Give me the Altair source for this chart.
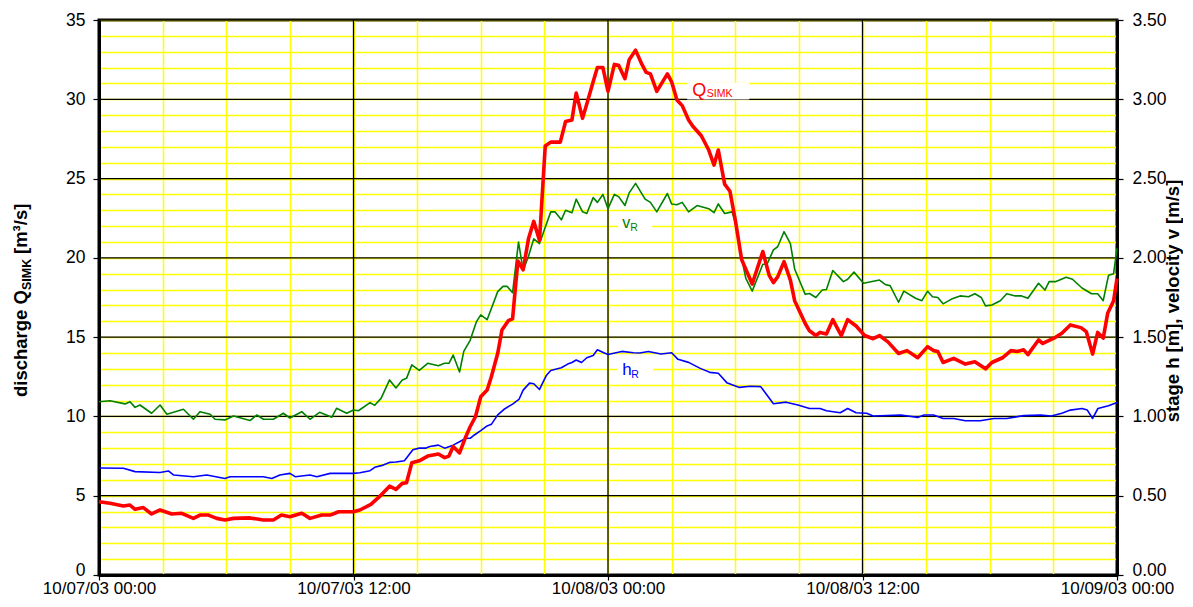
import altair as alt
import pandas as pd

# ---------------- data ----------------
# discharge Q_SIMK [m3/s]; hours after 10/07/03 00:00
q_hours = [0, 0.52, 1.15, 1.46, 1.7, 2.09, 2.48, 2.88, 3.43, 3.9,
           4.45, 4.76, 5.16, 5.55, 5.94, 6.34, 7.12, 7.75, 8.22, 8.6,
           9.0, 9.56, 9.95, 10.5, 10.9, 11.3, 12.0, 12.3, 12.82, 13.3,
           13.7, 14.0, 14.3, 14.5, 14.75, 15.1, 15.5, 16.0, 16.3, 16.5,
           16.7, 17.0, 17.3, 17.5, 17.75, 18.0, 18.3, 18.5, 18.8, 19.0,
           19.3, 19.5, 19.75, 20.0, 20.25, 20.5, 20.77, 21.04, 21.3, 21.75,
           22.0, 22.3, 22.5, 22.8, 23.0, 23.3, 23.5, 23.76, 24.0, 24.3,
           24.5, 24.8, 25.0, 25.3, 25.6, 25.8, 26.0, 26.3, 26.8, 27.0,
           27.25, 27.5, 27.8, 28.0, 28.4, 28.75, 29.0, 29.2, 29.5, 29.75,
           30.0, 30.3, 30.8, 31.3, 31.6, 31.8, 32.0, 32.3, 32.6, 32.8,
           33.3, 33.5, 33.8, 34.0, 34.3, 34.6, 35.0, 35.3, 35.7, 36.1,
           36.5, 36.8, 37.2, 37.7, 38.1, 38.6, 39.07, 39.35, 39.55, 39.8,
           40.3, 40.85, 41.3, 41.8, 42.1, 42.6, 43.0, 43.3, 43.6, 43.8,
           44.3, 44.5, 45.1, 45.4, 45.8, 46.3, 46.55, 46.85, 47.09, 47.35,
           47.56, 47.84, 48.0]
q_values = [4.62, 4.52, 4.35, 4.41, 4.14, 4.25, 3.85, 4.1, 3.85, 3.89,
            3.57, 3.78, 3.78, 3.57, 3.47, 3.57, 3.6, 3.47, 3.47, 3.78,
            3.68, 3.89, 3.57, 3.78, 3.78, 3.99, 3.99, 4.1, 4.45, 5.04,
            5.6, 5.4, 5.78, 5.82, 7.08, 7.2, 7.5, 7.63, 7.4, 7.5,
            8.1, 7.7, 8.74, 9.35, 9.98, 11.24, 11.66, 12.5, 13.98, 15.45,
            16.04, 16.15, 19.8, 19.25, 21.2, 22.3, 21.1, 27.05, 27.3, 27.3,
            28.6, 28.7, 30.4, 28.8, 29.7, 31.1, 32.0, 32.0, 30.5, 32.2,
            32.15, 31.3, 32.5, 33.1, 32.2, 31.7, 31.6, 30.5, 31.6, 31.1,
            29.95, 29.6, 28.7, 28.3, 27.7, 26.8, 25.85, 26.8, 24.65, 24.2,
            22.4, 19.9, 18.35, 20.4, 18.9, 18.44, 18.8, 19.76, 18.6, 17.3,
            15.86, 15.4, 15.1, 15.3, 15.2, 16.1, 15.1, 16.1, 15.7, 15.1,
            14.9, 15.1, 14.7, 13.97, 14.15, 13.7, 14.4, 14.15, 14.1, 13.4,
            13.66, 13.3, 13.45, 13.0, 13.4, 13.7, 14.15, 14.1, 14.2, 13.9,
            14.82, 14.6, 14.99, 15.25, 15.77, 15.6, 15.35, 13.93, 15.3, 14.94,
            16.5, 17.3, 18.7]

# velocity v_R [m/s]
v_hours = [0, 0.52, 1.23, 1.46, 1.7, 1.93, 2.48, 2.88, 3.2, 3.98,
           4.45, 4.76, 5.24, 5.47, 5.94, 6.34, 7.12, 7.44, 7.75, 8.22,
           8.69, 9.0, 9.56, 9.95, 10.4, 10.98, 11.2, 11.68, 12.0, 12.23,
           12.78, 13.0, 13.3, 13.7, 14.0, 14.3, 14.5, 14.75, 15.1, 15.5,
           16.0, 16.3, 16.5, 16.7, 17.0, 17.2, 17.5, 17.8, 18.0, 18.3,
           18.8, 19.05, 19.25, 19.5, 19.78, 20.0, 20.25, 20.5, 20.77, 21.3,
           21.5, 21.8, 22.0, 22.3, 22.5, 22.8, 23.0, 23.3, 23.5, 23.76,
           24.0, 24.3, 24.5, 24.8, 25.0, 25.3, 25.75, 26.0, 26.3, 26.8,
           27.0, 27.25, 27.5, 27.8, 28.2, 28.75, 29.0, 29.2, 29.5, 29.85,
           30.1, 30.3, 30.5, 30.8, 31.3, 31.5, 31.8, 32.0, 32.3, 32.6,
           32.8, 33.3, 33.5, 33.8, 34.1, 34.3, 34.6, 35.1, 35.3, 35.6,
           36.05, 36.8, 37.1, 37.3, 37.7, 37.95, 38.5, 38.8, 39.07, 39.3,
           39.55, 39.8, 40.2, 40.6, 41.0, 41.3, 41.6, 41.8, 42.1, 42.5,
           42.8, 43.2, 43.5, 43.8, 44.3, 44.6, 44.8, 45.1, 45.6, 45.9,
           46.35, 46.8, 47.09, 47.35, 47.6, 47.84, 48.0]
v_values = [1.093, 1.099, 1.079, 1.093, 1.057, 1.072, 1.020, 1.072, 1.014, 1.045,
            0.982, 1.030, 1.014, 0.982, 0.978, 1.003, 0.974, 1.009, 0.982, 0.982,
            1.020, 0.990, 1.030, 0.982, 1.026, 0.995, 1.051, 1.020, 1.041, 1.036,
            1.087, 1.070, 1.114, 1.230, 1.180, 1.230, 1.240, 1.325, 1.290, 1.335,
            1.320, 1.335, 1.335, 1.387, 1.280, 1.410, 1.480, 1.598, 1.640, 1.610,
            1.787, 1.820, 1.820, 1.780, 2.100, 1.920, 2.010, 2.120, 2.090, 2.290,
            2.290, 2.240, 2.300, 2.285, 2.370, 2.290, 2.280, 2.380, 2.350, 2.400,
            2.310, 2.400, 2.386, 2.330, 2.410, 2.470, 2.370, 2.350, 2.290, 2.406,
            2.340, 2.335, 2.350, 2.290, 2.330, 2.310, 2.285, 2.340, 2.280, 2.290,
            2.180, 2.000, 1.870, 1.790, 1.960, 1.960, 2.050, 2.070, 2.165, 2.090,
            1.930, 1.770, 1.775, 1.750, 1.797, 1.800, 1.920, 1.850, 1.865, 1.910,
            1.840, 1.860, 1.830, 1.825, 1.720, 1.790, 1.745, 1.730, 1.790, 1.755,
            1.750, 1.710, 1.740, 1.760, 1.755, 1.774, 1.750, 1.697, 1.703, 1.730,
            1.774, 1.760, 1.760, 1.745, 1.840, 1.797, 1.850, 1.850, 1.878, 1.865,
            1.810, 1.774, 1.774, 1.730, 1.890, 1.900, 2.060]

# stage h_R [m]
h_hours = [0, 1.15, 1.7, 2.88, 3.27, 3.51, 4.45, 5.08, 5.94, 6.18,
           7.75, 8.15, 8.53, 9.0, 9.25, 9.95, 10.27, 10.9, 12.0, 12.3,
           12.78, 13.0, 13.4, 13.7, 14.0, 14.4, 14.8, 15.1, 15.4, 15.6,
           16.0, 16.3, 16.7, 17.0, 17.3, 17.5, 17.7, 18.0, 18.3, 18.5,
           18.8, 19.1, 19.5, 19.8, 20.0, 20.3, 20.5, 20.77, 21.1, 21.3,
           21.8, 22.1, 22.3, 22.5, 22.75, 23.0, 23.3, 23.5, 23.8, 24.0,
           24.65, 25.2, 25.5, 25.9, 26.5, 27.0, 27.3, 27.8, 28.35, 28.8,
           29.2, 29.6, 30.2, 30.7, 31.2, 31.8, 32.4, 33.0, 33.5, 34.0,
           34.3, 34.95, 35.3, 35.7, 36.2, 36.5, 37.8, 38.6, 38.9, 39.35,
           39.8, 40.3, 40.85, 41.55, 42.2, 42.8, 43.6, 44.4, 44.9, 45.4,
           45.8, 46.35, 46.6, 46.85, 47.1, 47.6, 48.0]
h_values = [0.675, 0.673, 0.652, 0.646, 0.656, 0.631, 0.620, 0.631, 0.609, 0.620,
            0.620, 0.609, 0.631, 0.641, 0.620, 0.631, 0.620, 0.641, 0.641, 0.645,
            0.658, 0.679, 0.693, 0.710, 0.713, 0.720, 0.790, 0.800, 0.800, 0.810,
            0.819, 0.800, 0.819, 0.840, 0.862, 0.862, 0.883, 0.910, 0.940, 0.950,
            1.010, 1.045, 1.078, 1.107, 1.166, 1.210, 1.206, 1.170, 1.260, 1.290,
            1.307, 1.330, 1.340, 1.356, 1.340, 1.370, 1.384, 1.420, 1.402, 1.390,
            1.410, 1.402, 1.400, 1.410, 1.394, 1.402, 1.360, 1.341, 1.303, 1.278,
            1.272, 1.213, 1.183, 1.190, 1.188, 1.080, 1.090, 1.070, 1.050, 1.050,
            1.036, 1.023, 1.050, 1.023, 1.020, 1.003, 1.009, 0.994, 1.009, 1.009,
            0.987, 0.987, 0.973, 0.973, 0.987, 0.987, 1.005, 1.009, 1.003, 1.020,
            1.040, 1.050, 1.040, 0.987, 1.050, 1.067, 1.088]

# in-plot series labels: position (hours, discharge units)
label_hours = [29.2, 25.28, 25.28]
label_values = [30.52, 22.13, 12.99]

# axis tick / gridline values
x_minor_hours = list(range(0, 49, 3))
x_major_hours = [0, 12, 24, 36, 48]
y_minor_ticks = list(range(0, 36))
y_major_ticks = [0, 5, 10, 15, 20, 25, 30, 35]
y_right_ticks = [0.0, 0.5, 1.0, 1.5, 2.0, 2.5, 3.0, 3.5]

# ---------------- chart ----------------
FONT = "Liberation Sans"
BASE = pd.Timestamp("2003-10-07 00:00:00")
YELLOW = "#ffff00"


def dt(h):
    return alt.DateTime(year=2003, month=10, date=int(7 + h // 24), hours=int(h % 24))


def frame(hours, values):
    assert len(hours) == len(values), (len(hours), len(values))
    return pd.DataFrame({"time": BASE + pd.to_timedelta(hours, unit="h"), "value": values})


MAJOR_X = "hours(datum.value) % 12 === 0"
MAJOR_Y = "datum.value % 5 === 0"
ZERO_BASELINE = {"condition": {"test": "datum.value === 0", "value": "alphabetic"}, "value": "middle"}

x_axis = alt.Axis(
    values=[dt(h) for h in x_minor_hours],
    labelExpr=f"{MAJOR_X} ? timeFormat(datum.value, '%m/%d/%y %H:%M') : ''",
    labelFlush=False, labelOverlap=False,
    labelFont=FONT, labelFontSize=17, labelColor="black", labelPadding=0,
    tickSize=5, tickWidth=1.2,
    tickColor={"condition": {"test": MAJOR_X, "value": "black"}, "value": "transparent"},
    grid=True, gridColor=YELLOW, gridWidth=1.5, gridOpacity=1,
    domainColor="black", domainWidth=3, title="",
)
X = alt.X("time:T", scale=alt.Scale(domain=[dt(0), dt(48)]), axis=x_axis)

y_left_axis = alt.Axis(
    orient="left", values=y_minor_ticks,
    labelExpr=f"{MAJOR_Y} ? datum.label : ''",
    labelFont=FONT, labelFontSize=17.5, labelColor="black", labelPadding=8,
    labelBaseline=ZERO_BASELINE,
    tickSize=6, tickWidth=1.2,
    tickColor={"condition": {"test": MAJOR_Y, "value": "black"}, "value": "transparent"},
    grid=True, gridColor=YELLOW, gridWidth=1.5, gridOpacity=1,
    domainColor="black", domainWidth=3, title="",
)
Q_SCALE = alt.Scale(domain=[0, 35], nice=False)
YL = alt.Y("value:Q", scale=Q_SCALE, axis=y_left_axis)
YQ = alt.Y("value:Q", scale=Q_SCALE, axis=None)

y_right_axis = alt.Axis(
    orient="right", values=y_right_ticks, format=".2f", grid=False,
    labelFont=FONT, labelFontSize=17.5, labelColor="black", labelPadding=9,
    labelBaseline=ZERO_BASELINE,
    tickSize=6, tickWidth=1.2, tickColor="black",
    domainColor="black", domainWidth=3, title="",
)
YR = alt.Y("value:Q", scale=alt.Scale(domain=[0, 3.5], nice=False), axis=y_right_axis)

# black major gridlines (drawn above the yellow minor grid)
vrules = alt.Chart(frame(x_major_hours, [0] * len(x_major_hours))).mark_rule(
    color="black", strokeWidth=1.3).encode(x=X)
hrules = alt.Chart(pd.DataFrame({"value": y_major_ticks})).mark_rule(
    color="black", strokeWidth=1.3).encode(y=YL)
grid_group = alt.layer(vrules, hrules)

q_df = frame(q_hours, q_values)
v_df = frame(v_hours, v_values)
h_df = frame(h_hours, h_values)

h_line = alt.Chart(h_df).mark_line(color="#0000ff", strokeWidth=1.6, strokeJoin="round").encode(x=X, y=YR)
v_line = alt.Chart(v_df).mark_line(color="#008000", strokeWidth=1.6, strokeJoin="round").encode(x=X, y=YR)
hv_group = alt.layer(h_line, v_line)

q_line = alt.Chart(q_df).mark_line(color="#ff0000", strokeWidth=3.6, strokeJoin="round").encode(x=X, y=YQ)

# label styling: (color, box w, box h, [(text, size, dx, dy), ...])
label_styles = [
    ("#ff0000", 62, 17, [("Q", 18, -26, 5), ("SIMK", 10.5, -11.5, 6)]),
    ("#008000", 34, 18, [("v", 16, -13, 4), ("R", 10.5, -5, 7)]),
    ("#0000ff", 36, 22, [("h", 17, -13, 6), ("R", 10.5, -4, 9)]),
]

q_layers = [q_line]
for i, (col, bw, bh, pieces) in enumerate(label_styles):
    ldf = frame([label_hours[i]], [label_values[i]])
    r = round(bh / bw, 4)
    q_layers.append(
        alt.Chart(ldf).mark_point(shape=f"M-1,-{r}H1V{r}H-1Z", size=bw * bw, filled=True,
                                  fill="white", strokeWidth=0, opacity=1).encode(x=X, y=YQ))
    for txt, fs, dx, dy in pieces:
        q_layers.append(
            alt.Chart(ldf).mark_text(text=txt, font=FONT, fontSize=fs, color=col, align="left",
                                     baseline="alphabetic", dx=dx, dy=dy).encode(x=X, y=YQ))

# axis titles (left one has a subscript, so it is drawn in pieces)
one = pd.DataFrame({"k": [0]})
left_title = [("discharge Q", 18.5, 0, 0), ("SIMK", 12.5, 107, 4), ("[m³/s]", 18.5, 143, 0)]
for txt, fs, dx, dy in left_title:
    q_layers.append(
        alt.Chart(one).mark_text(text=txt, font=FONT, fontSize=fs, fontWeight="bold", color="black",
                                 align="left", baseline="alphabetic", angle=270, dx=dx, dy=dy)
        .encode(x=alt.value(-72), y=alt.value(377)))
q_layers.append(
    alt.Chart(one).mark_text(text="stage h [m], velocity v [m/s]", font=FONT, fontSize=18.5,
                             fontWeight="bold", color="black", align="center",
                             baseline="alphabetic", angle=270)
    .encode(x=alt.value(1080), y=alt.value(281)))
q_group = alt.layer(*q_layers)

chart = (
    alt.layer(grid_group, hv_group, q_group)
    .resolve_scale(y="independent")
    .properties(
        width=1018, height=555,
        autosize=alt.AutoSizeParams(type="none"),
        padding={"left": 91, "top": 12, "right": 66, "bottom": 23},
        background="white",
    )
    .configure(font=FONT)
    .configure_view(stroke="black", strokeWidth=3)
)

chart.save("out.html", embed_options={"renderer": "svg", "actions": False})
